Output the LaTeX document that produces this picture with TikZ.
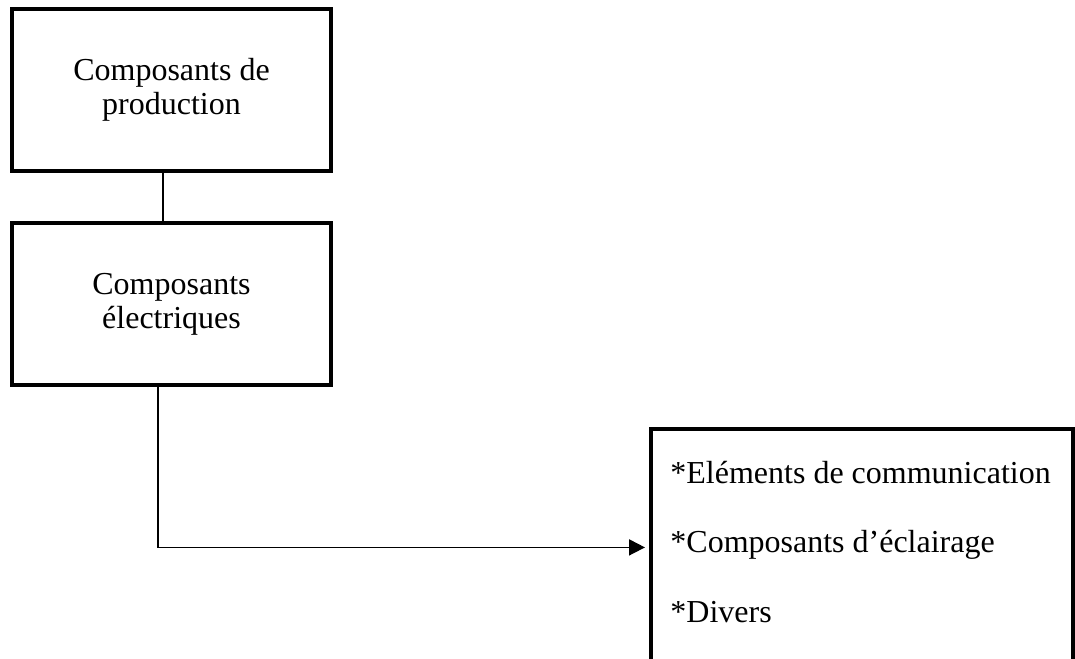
\documentclass[tikz,border=0pt]{standalone}
\usepackage{fontspec}
\setmainfont{Liberation Serif}
\usetikzlibrary{positioning, arrows.meta}
\tikzset{
    bloc/.style={draw, line width=2pt, minimum width=159.5pt, minimum height=81pt,
        align=center, inner sep=0pt, font=\fontsize{16}{17}\selectfont},
    item/.style={anchor=base west, inner sep=0pt, font=\fontsize{16}{17}\selectfont},
    lien/.style={line width=0.9pt}
}

\begin{document}
\begin{tikzpicture}
    \useasboundingbox (0,0) rectangle (537.5pt,-329pt);
    \node[bloc] (prod) at (85.75pt,-45pt) {Composants de\\production};
    \node[bloc, below=24pt of prod] (elec) {Composants\\électriques};
    \node[bloc, anchor=north west, minimum width=211pt, minimum height=140pt] (liste) at (324.5pt,-213.5pt) {};
    \node[item] (comm) at (335pt,-241.5pt) {*Eléments de communication};
    \node[item, below=34.5pt of comm.base west, anchor=base west] (eclair) {*Composants d’éclairage};
    \node[item, below=35pt of eclair.base west, anchor=base west] (divers) {*Divers};
    \draw[lien] ([xshift=-4.25pt]prod.south) -- ([xshift=-4.25pt]elec.north);
    \draw[lien, -{Triangle[length=8pt, width=8pt]}, shorten >=2pt]
        ([xshift=-6.75pt]elec.south) |- (eclair.mid west -| liste.west);
\end{tikzpicture}
\end{document}
